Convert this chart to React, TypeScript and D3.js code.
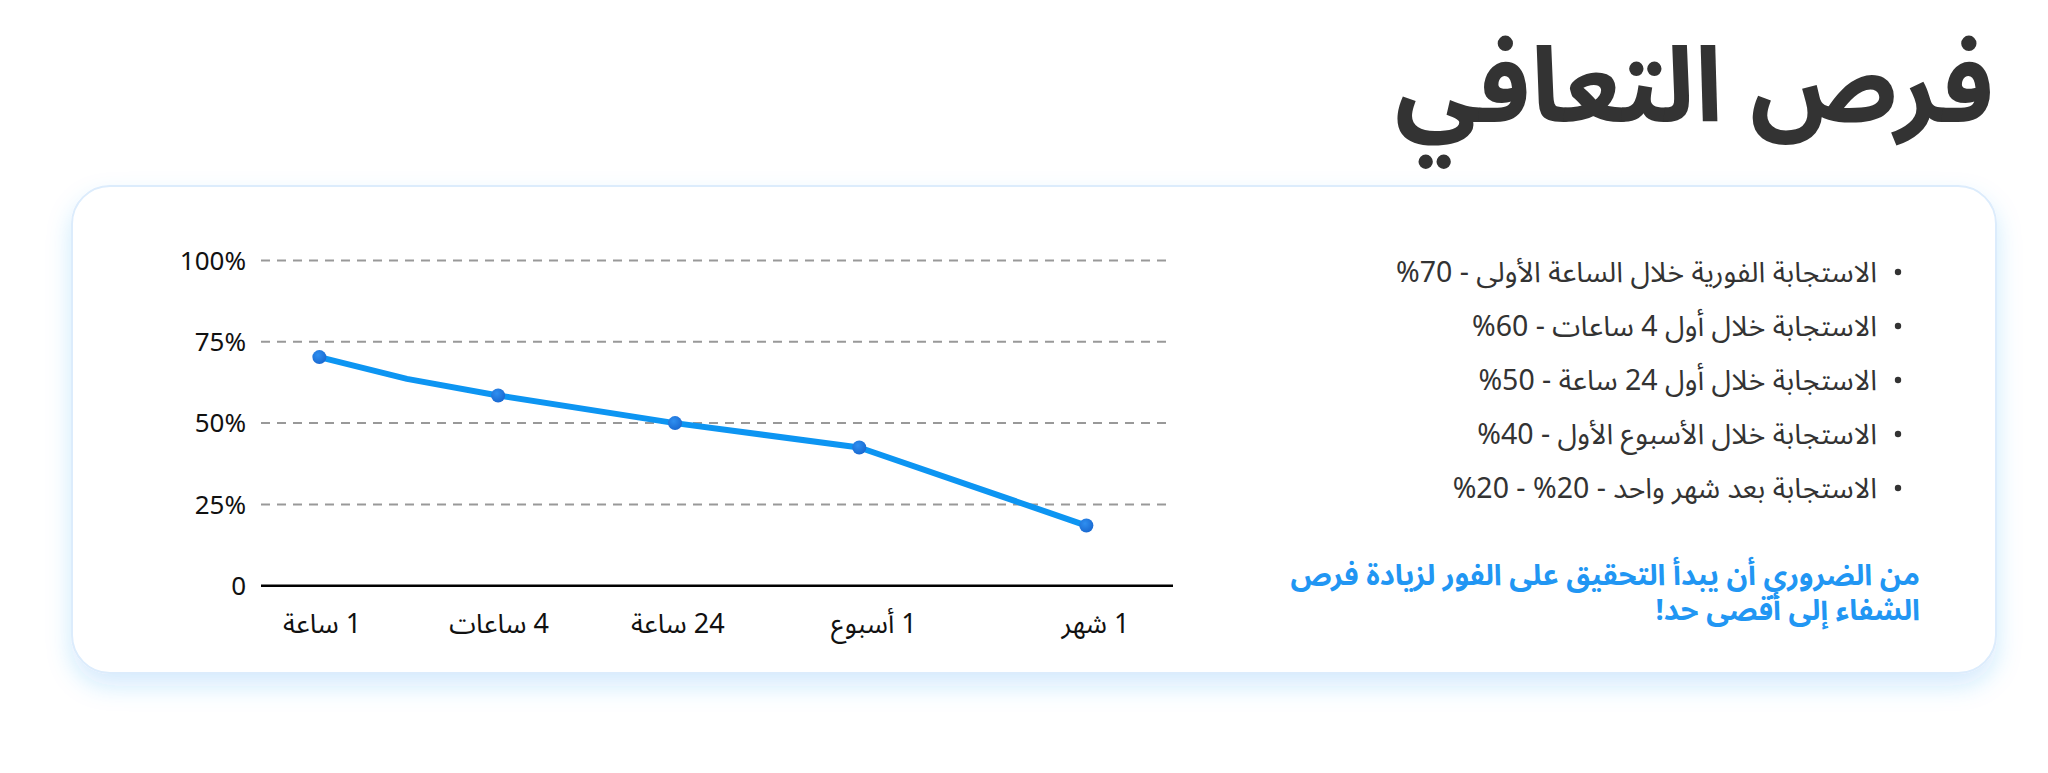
import React from "react";
import * as d3 from "d3";

// ---- data ----
const categories = ["1 ساعة", "4 ساعات", "24 ساعة", "1 أسبوع", "1 شهر"];
const categoryPos = [6.4, 26.0, 45.4, 65.6, 90.5]; // point position along time axis (% of axis)
const tickLabelPos = [6.7, 26.1, 45.7, 67.2, 91.5]; // label centre along time axis (% of axis)
const values = [70.3, 58.5, 50.0, 42.5, 18.5];
// line path vertices (includes the unmarked bend between 1h and 4h)
const linePos = [6.4, 16.0, 26.0, 45.4, 65.6, 90.5];
const lineValues = [70.3, 63.6, 58.5, 50.0, 42.5, 18.5];
const yTicks = [0, 25, 50, 75, 100];
const yTickLabels = ["0", "25%", "50%", "75%", "100%"];
const title = "فرص التعافي";
const bulletItems = [
  "الاستجابة الفورية خلال الساعة الأولى - 70%",
  "الاستجابة خلال أول 4 ساعات - 60%",
  "الاستجابة خلال أول 24 ساعة - 50%",
  "الاستجابة خلال الأسبوع الأول - 40%",
  "الاستجابة بعد شهر واحد - 20% - 20%",
];
const noteLines = [
  "من الضروري أن يبدأ التحقيق على الفور لزيادة فرص",
  "الشفاء إلى أقصى حد!",
];

const W = 2048;
const H = 773;
const FONT = "'Noto Sans Arabic', 'Noto Sans', 'DejaVu Sans', sans-serif";

export default function App() {
  const plot = { left: 261, right: 1173, top: 260.5, bottom: 585.7 };
  const x = d3.scaleLinear().domain([0, 100]).range([plot.left, plot.right]);
  const y = d3.scaleLinear().domain([0, 100]).range([plot.bottom, plot.top]);

  const lineGen = d3
    .line<number>()
    .x((_, i) => x(linePos[i]))
    .y((d) => y(d))
    .curve(d3.curveLinear);

  const card = { x: 72, y: 186, w: 1924, h: 487, r: 38 };

  return (
    <svg
      width={W}
      height={H}
      viewBox={`0 0 ${W} ${H}`}
      style={{ position: "absolute", left: 0, top: 0, background: "#fff" }}
    >
      <defs>
        <filter id="cardShadow" x="-5%" y="-20%" width="110%" height="150%">
          <feDropShadow dx="0" dy="12" stdDeviation="12" floodColor="#2196f3" floodOpacity="0.2" />
        </filter>
        <radialGradient id="dotGrad" cx="40%" cy="35%" r="70%">
          <stop offset="0%" stopColor="#2f8ff0" />
          <stop offset="100%" stopColor="#1867cf" />
        </radialGradient>
      </defs>

      <text
        x={1994}
        y={121}
        direction="rtl"
        textAnchor="start"
        fontFamily={FONT}
        fontWeight={700}
        fontSize={104}
        fill="#333"
      >
        {title}
      </text>

      <rect
        x={card.x}
        y={card.y}
        width={card.w}
        height={card.h}
        rx={card.r}
        fill="#fff"
        stroke="#dcecfc"
        strokeWidth={2}
        filter="url(#cardShadow)"
      />

      {/* grid */}
      {yTicks.map((t) =>
        t === 0 ? null : (
          <line
            key={"g" + t}
            x1={plot.left}
            x2={plot.right}
            y1={y(t)}
            y2={y(t)}
            stroke="#999"
            strokeWidth={2}
            strokeDasharray="9,7"
          />
        )
      )}
      <line x1={plot.left} x2={plot.right} y1={y(0)} y2={y(0)} stroke="#000" strokeWidth={2.5} />

      {yTicks.map((t, i) => (
        <text
          key={"yl" + t}
          x={246}
          y={y(t)}
          dy="0.36em"
          textAnchor="end"
          fontFamily={FONT}
          fontSize={26}
          fill="#111"
        >
          {yTickLabels[i]}
        </text>
      ))}

      {categories.map((c, i) => (
        <text
          key={"xl" + i}
          x={x(tickLabelPos[i])}
          y={633}
          textAnchor="middle"
          direction="rtl"
          fontFamily={FONT}
          fontSize={27}
          fill="#111"
        >
          {c}
        </text>
      ))}

      <path d={lineGen(lineValues) || ""} fill="none" stroke="#0d95f2" strokeWidth={6} strokeLinejoin="round" strokeLinecap="round" />
      {values.map((v, i) => (
        <circle key={"pt" + i} cx={x(categoryPos[i])} cy={y(v)} r={7} fill="url(#dotGrad)" />
      ))}

      {bulletItems.map((s, i) => (
        <g key={"b" + i}>
          <circle cx={1898} cy={272 + i * 54} r={3.2} fill="#333" />
          <text
            x={1877}
            y={282 + i * 54}
            direction="rtl"
            textAnchor="start"
            fontFamily={FONT}
            fontSize={28.5}
            fill="#333"
          >
            {s}
          </text>
        </g>
      ))}

      {noteLines.map((s, i) => (
        <text
          key={"n" + i}
          x={1920}
          y={585 + i * 35}
          direction="rtl"
          textAnchor="start"
          fontFamily={FONT}
          fontWeight={700}
          fontSize={29}
          fill="#2196f3"
        >
          {s}
        </text>
      ))}
    </svg>
  );
}
